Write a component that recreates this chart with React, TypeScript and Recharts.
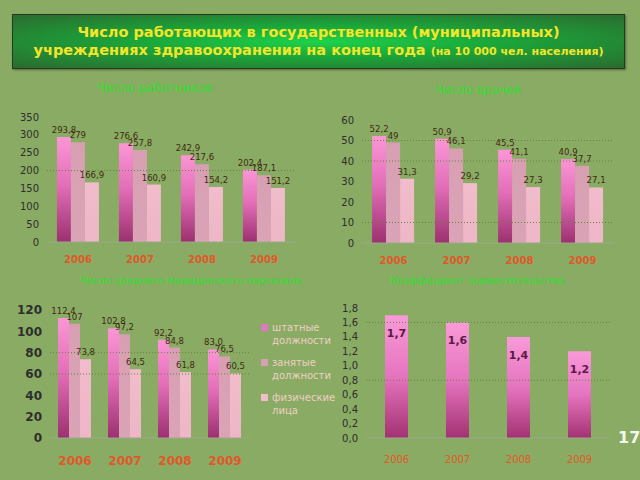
import React from "react";
import { BarChart, Bar, XAxis, YAxis, LabelList, ReferenceLine } from "recharts";

const years = ["2006", "2007", "2008", "2009"];
const seriesNames = ["штатные должности", "занятые должности", "физические лица"];

// Число работников
const workersStaff = [293.8, 276.6, 242.9, 202.4];
const workersOccupied = [279, 257.8, 217.6, 187.1];
const workersPersons = [166.9, 160.9, 154.2, 151.2];

// Число врачей
const doctorsStaff = [52.2, 50.9, 45.5, 40.9];
const doctorsOccupied = [49, 46.1, 41.1, 37.7];
const doctorsPersons = [31.3, 29.2, 27.3, 27.1];

// Число среднего медицинского персонала
const nursesStaff = [112.4, 102.8, 92.2, 83.0];
const nursesOccupied = [107, 97.2, 84.8, 76.5];
const nursesPersons = [73.8, 64.5, 61.8, 60.5];

// Коэффициент совместительства
const ratio = [1.7, 1.6, 1.4, 1.2];

const wholeLabels = [279, 49, 107];

const bg = "#8aab63";
const gridColor = "#66833f";
const tickOrange = "#e0582a";
const swatches = ["#e078bf", "#d89fb3", "#f1bccb"];

const fmt = (v: any) => {
  const n = Number(v);
  if (wholeLabels.includes(n)) return String(n);
  return n.toFixed(1).replace(".", ",");
};

const build = (a: number[], b: number[], c: number[]) =>
  years.map((y, i) => ({ year: y, s1: a[i], s2: b[i], s3: c[i] }));

const Gradients = ({ id }: { id: string }) => (
  <defs>
    <linearGradient id={`${id}-g1`} x1="0" y1="0" x2="0" y2="1">
      <stop offset="0%" stopColor="#fb96d6" />
      <stop offset="45%" stopColor="#e36fb8" />
      <stop offset="100%" stopColor="#9c3070" />
    </linearGradient>
    <linearGradient id={`${id}-g2`} x1="0" y1="0" x2="0" y2="1">
      <stop offset="0%" stopColor="#d89fb3" />
      <stop offset="100%" stopColor="#dba4b6" />
    </linearGradient>
    <linearGradient id={`${id}-g3`} x1="0" y1="0" x2="0" y2="1">
      <stop offset="0%" stopColor="#f1bccb" />
      <stop offset="100%" stopColor="#eeb6c6" />
    </linearGradient>
  </defs>
);

const labelStyle = { fontSize: 8.5, fill: "#3d2a12", fontFamily: "DejaVu Sans" };

function GroupChart({ id, data, width, height, margin, yWidth, domain, ticks, grid, bigTicks }: any) {
  const tickFont = bigTicks ? 12 : 10;
  return (
    <BarChart width={width} height={height} data={data} margin={margin} barCategoryGap="16%" barGap={0}>
      <Gradients id={id} />
      <XAxis
        dataKey="year"
        height={bigTicks ? 30 : 20}
        axisLine={{ stroke: "#9aa98a" }}
        tickLine={false}
        tickMargin={bigTicks ? 12 : 8}
        tick={{ fill: tickOrange, fontSize: tickFont, fontWeight: "bold", fontFamily: "DejaVu Sans" }}
      />
      <YAxis
        width={yWidth}
        domain={domain}
        ticks={ticks}
        interval={0}
        axisLine={false}
        tickLine={false}
        tick={{ fill: "#2e2e2e", fontSize: tickFont, fontWeight: bigTicks ? "bold" : "normal", fontFamily: "DejaVu Sans" }}
      />
      <YAxis yAxisId="r" orientation="right" width={0} tick={false} tickLine={false} axisLine={{ stroke: "#6f8a55" }} />
      {grid.map((g: number) => (
        <ReferenceLine key={g} y={g} stroke={gridColor} strokeDasharray="1 2" />
      ))}
      <Bar dataKey="s1" name={seriesNames[0]} fill={`url(#${id}-g1)`} isAnimationActive={false}>
        <LabelList dataKey="s1" position="top" formatter={fmt} style={labelStyle} offset={4} />
      </Bar>
      <Bar dataKey="s2" name={seriesNames[1]} fill={`url(#${id}-g2)`} isAnimationActive={false}>
        <LabelList dataKey="s2" position="top" formatter={fmt} style={labelStyle} offset={4} />
      </Bar>
      <Bar dataKey="s3" name={seriesNames[2]} fill={`url(#${id}-g3)`} isAnimationActive={false}>
        <LabelList dataKey="s3" position="top" formatter={fmt} style={labelStyle} offset={4} />
      </Bar>
    </BarChart>
  );
}

const subTitle: React.CSSProperties = {
  position: "absolute",
  fontFamily: "DejaVu Sans",
  fontSize: 10,
  color: "#33dd33",
  whiteSpace: "nowrap",
};

export default function App() {
  const ratioData = years.map((y, i) => ({ year: y, v: ratio[i] }));
  return (
    <div style={{ position: "absolute", left: 0, top: 0, width: 640, height: 480, background: bg, overflow: "hidden" }}>
      <div
        style={{
          position: "absolute", left: 12, top: 14, width: 611, height: 53,
          background: "radial-gradient(ellipse at center, #1ed24a 0%, #1aa83a 40%, #2b6a2f 100%)",
          border: "1px solid #243a22", boxShadow: "1px 1px 2px rgba(0,0,0,0.4)",
          textAlign: "center", fontFamily: "DejaVu Sans", fontWeight: "bold", color: "#f3e52a",
        }}
      >
        <div style={{ fontSize: 14.5, marginTop: 8, lineHeight: "18px" }}>
          Число работающих в государственных (муниципальных)
        </div>
        <div style={{ fontSize: 14.5, lineHeight: "18px", whiteSpace: "nowrap" }}>
          учреждениях здравоохранения на конец года <span style={{ fontSize: 11 }}>(на 10 000 чел. населения)</span>
        </div>
      </div>

      <div style={{ ...subTitle, fontSize: 12, left: 97, top: 81 }}>Число работников</div>
      <div style={{ ...subTitle, fontSize: 12, left: 435, top: 83 }}>Число врачей</div>
      <div style={{ ...subTitle, left: 80, top: 275 }}>Число среднего медицинского персонала</div>
      <div style={{ ...subTitle, left: 390, top: 275 }}>Коэффициент совместительства</div>

      <div style={{ position: "absolute", left: 0, top: 100 }}>
        <GroupChart
          id="w"
          data={build(workersStaff, workersOccupied, workersPersons)}
          width={310}
          height={170}
          margin={{ top: 17, right: 15, bottom: 8, left: 0 }}
          yWidth={47}
          domain={[0, 350]}
          ticks={[0, 50, 100, 150, 200, 250, 300, 350]}
          grid={[200]}
        />
      </div>

      <div style={{ position: "absolute", left: 320, top: 100 }}>
        <GroupChart
          id="d"
          data={build(doctorsStaff, doctorsOccupied, doctorsPersons)}
          width={320}
          height={170}
          margin={{ top: 20, right: 26, bottom: 7, left: 0 }}
          yWidth={42}
          domain={[0, 60]}
          ticks={[0, 10, 20, 30, 40, 50, 60]}
          grid={[50, 40, 10]}
        />
      </div>

      <div style={{ position: "absolute", left: 0, top: 290 }}>
        <GroupChart
          id="n"
          data={build(nursesStaff, nursesOccupied, nursesPersons)}
          width={340}
          height={190}
          margin={{ top: 20, right: 90, bottom: 12, left: 0 }}
          yWidth={50}
          domain={[0, 120]}
          ticks={[0, 20, 40, 60, 80, 100, 120]}
          grid={[80, 60]}
          bigTicks
        />
      </div>

      <div
        style={{
          position: "absolute", left: 261, top: 321, width: 75, fontFamily: "DejaVu Sans",
          fontSize: 10, color: "#efcfc6", lineHeight: "13px",
        }}
      >
        {seriesNames.map((name, i) => (
          <div key={name} style={{ display: "flex", alignItems: "flex-start", marginBottom: 9 }}>
            <span
              style={{ width: 7, height: 7, marginTop: 3, marginRight: 4, flex: "none", background: swatches[i] }}
            />
            <span>{name}</span>
          </div>
        ))}
      </div>

      <div style={{ position: "absolute", left: 330, top: 290 }}>
        <BarChart width={310} height={190} data={ratioData} margin={{ top: 18, right: 30, bottom: 12, left: 0 }}>
          <defs>
            <linearGradient id="r-g" x1="0" y1="0" x2="0" y2="1">
              <stop offset="0%" stopColor="#f99ad8" />
              <stop offset="50%" stopColor="#e574bf" />
              <stop offset="100%" stopColor="#a23272" />
            </linearGradient>
          </defs>
          <XAxis
            dataKey="year"
            height={30}
            axisLine={{ stroke: "#9aa98a" }}
            tickLine={false}
            tickMargin={12}
            tick={{ fill: tickOrange, fontSize: 10, fontFamily: "DejaVu Sans" }}
          />
          <YAxis
            width={36}
            domain={[0, 1.8]}
            ticks={[0, 0.2, 0.4, 0.6, 0.8, 1.0, 1.2, 1.4, 1.6, 1.8]}
            interval={0}
            axisLine={false}
            tickLine={false}
            tickFormatter={(v: number) => v.toFixed(1).replace(".", ",")}
            tick={{ fill: "#2e2e2e", fontSize: 10, fontFamily: "DejaVu Sans" }}
          />
          <YAxis yAxisId="r" orientation="right" width={0} tick={false} tickLine={false} axisLine={{ stroke: "#6f8a55" }} />
          <ReferenceLine y={1.6} stroke={gridColor} strokeDasharray="1 2" />
          <ReferenceLine y={0.8} stroke={gridColor} strokeDasharray="1 2" />
          <Bar dataKey="v" barSize={23} fill="url(#r-g)" isAnimationActive={false}>
            <LabelList
              dataKey="v"
              position="insideTop"
              offset={14}
              formatter={(v: any) => Number(v).toFixed(1).replace(".", ",")}
              style={{ fontSize: 11, fontWeight: "bold", fill: "#5a1a45", fontFamily: "DejaVu Sans" }}
            />
          </Bar>
        </BarChart>
      </div>

      <div
        style={{
          position: "absolute", left: 618, top: 428, color: "#f4f8ee", fontFamily: "DejaVu Sans",
          fontWeight: "bold", fontSize: 16,
        }}
      >
        17
      </div>
    </div>
  );
}
